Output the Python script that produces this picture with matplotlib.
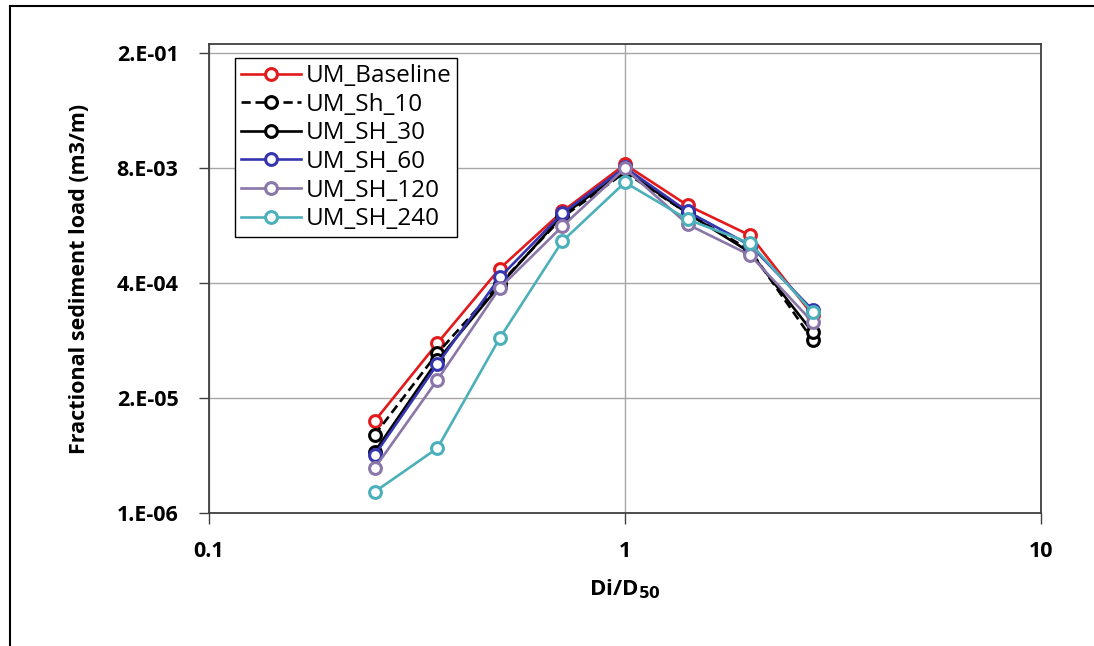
import matplotlib
matplotlib.use("Agg")
import matplotlib.pyplot as plt
from matplotlib.ticker import FixedLocator, NullLocator, FixedFormatter
from matplotlib.lines import Line2D

plt.rcParams['font.family'] = ['Open Sans', 'DejaVu Sans']

# Data
di_d50 = [0.25, 0.354, 0.5, 0.707, 1.0, 1.414, 2.0, 2.828]
series_names = ["UM_Baseline", "UM_Sh_10", "UM_SH_30", "UM_SH_60", "UM_SH_120", "UM_SH_240"]
um_baseline = [1.09e-5, 8.3e-5, 5.8e-4, 2.56e-3, 8.7e-3, 3.0e-3, 1.37e-3, 1.72e-4]
um_sh_10 = [7.6e-6, 6.4e-5, 3.9e-4, 2.2e-3, 7.1e-3, 2.44e-3, 9.3e-4, 9.0e-5]
um_sh_30 = [4.9e-6, 5.3e-5, 3.75e-4, 2.31e-3, 7.45e-3, 2.44e-3, 8.8e-4, 1.10e-4]
um_sh_60 = [4.5e-6, 4.8e-5, 4.6e-4, 2.44e-3, 8.05e-3, 2.56e-3, 1.06e-3, 1.96e-4]
um_sh_120 = [3.2e-6, 3.2e-5, 3.5e-4, 1.74e-3, 7.85e-3, 1.83e-3, 8.2e-4, 1.43e-4]
um_sh_240 = [1.73e-6, 5.4e-6, 9.5e-5, 1.18e-3, 5.46e-3, 2.08e-3, 1.12e-3, 1.86e-4]

y_ticks = [1e-6, 2e-5, 4e-4, 8e-3, 1.6e-1]
y_tick_labels = ["1.E-06", "2.E-05", "4.E-04", "8.E-03", "2.E-01"]
x_ticks = [0.1, 1, 10]
x_tick_labels = ["0.1", "1", "10"]

series = [um_baseline, um_sh_10, um_sh_30, um_sh_60, um_sh_120, um_sh_240]
colors = ["#E31A1C", "#000000", "#000000", "#3535B0", "#8A76A8", "#4BB0BA"]
styles = ["-", (0, (3.5, 1.8)), "-", "-", "-", "-"]

W, H = 1094, 646
fig = plt.figure(figsize=(W / 100, H / 100), dpi=100)
ax = fig.add_axes([209 / W, 1 - 513 / H, (1041 - 209) / W, (513 - 44) / H])

for name, vals, c, ls in zip(series_names, series, colors, styles):
    ax.plot(di_d50, vals, color=c, linestyle=ls, linewidth=1.9,
            marker='o', markersize=8.5, markerfacecolor='white',
            markeredgecolor=c, markeredgewidth=2.2, label=name, zorder=3)

ax.set_xscale('log')
ax.set_yscale('log')
ax.set_xlim(0.1, 10)
ax.set_ylim(1e-6, 0.2)

ax.xaxis.set_major_locator(FixedLocator(x_ticks))
ax.xaxis.set_major_formatter(FixedFormatter(x_tick_labels))
ax.xaxis.set_minor_locator(NullLocator())
ax.yaxis.set_major_locator(FixedLocator(y_ticks))
ax.yaxis.set_major_formatter(FixedFormatter(y_tick_labels))
ax.yaxis.set_minor_locator(NullLocator())

ax.grid(True, which='major', color='#A6A6A6', linewidth=1.0, zorder=0)
ax.set_axisbelow(True)
for s in ax.spines.values():
    s.set_color('#404040')
    s.set_linewidth(1.3)

ax.tick_params(axis='y', direction='out', length=7, width=1, color='#404040',
               pad=15, labelsize=15.5)
ax.tick_params(axis='x', direction='out', length=8, width=1, color='#404040',
               pad=12, labelsize=15.5)
for lab in ax.get_xticklabels() + ax.get_yticklabels():
    lab.set_fontweight('bold')

ax.set_ylabel("Fractional sediment load (m3/m)", fontsize=15.5, fontweight='bold', labelpad=19)
ax.set_xlabel(r"Di/D$_{\mathbf{50}}$", fontsize=16, fontweight='bold', labelpad=11)

leg = ax.legend(loc='upper left', bbox_to_anchor=((235 - 209) / (1041 - 209), 1 - (58 - 44) / (513 - 44)),
                frameon=True, fancybox=False, edgecolor='black', framealpha=1,
                fontsize=17.5, handlelength=2.45, handletextpad=0.2, labelspacing=0.19,
                borderpad=0.25, borderaxespad=0)
leg.get_frame().set_linewidth(1.0)

# figure border
fig.add_artist(Line2D([9.5 / W, 9.5 / W], [0, 1 - 6 / H], transform=fig.transFigure, color='black', lw=1.5))
fig.add_artist(Line2D([9.5 / W, 1], [1 - 6 / H, 1 - 6 / H], transform=fig.transFigure, color='black', lw=1.5))

fig.savefig("out.png", dpi=100)
